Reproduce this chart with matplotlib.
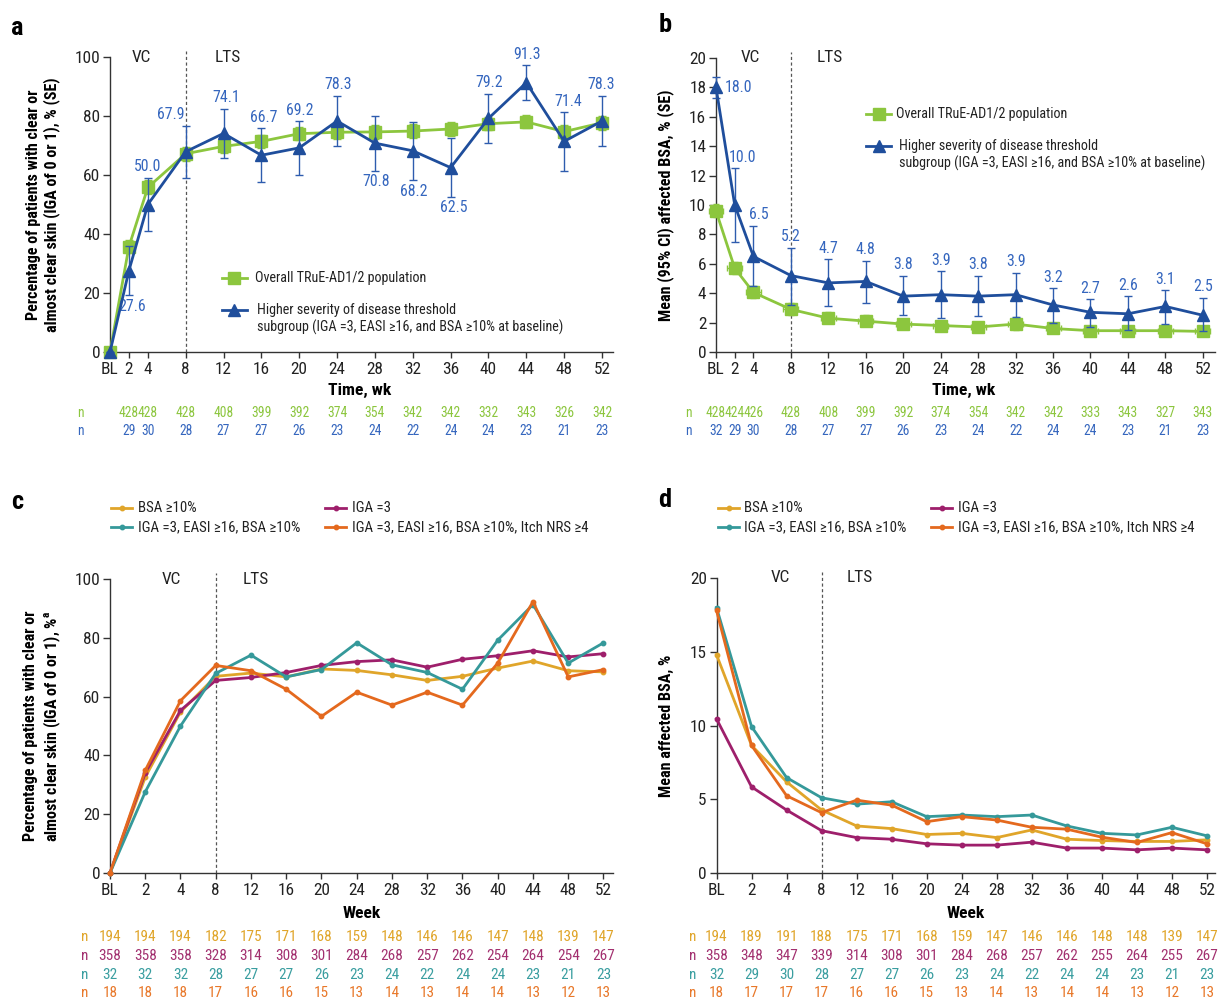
import matplotlib
matplotlib.use("Agg")
import matplotlib.pyplot as plt
from matplotlib import font_manager as fm
from matplotlib.lines import Line2D
from matplotlib.transforms import blended_transform_factory

# ---------------- data ----------------
weeks = [0, 2, 4, 8, 12, 16, 20, 24, 28, 32, 36, 40, 44, 48, 52]
week_labels = ["BL", "2", "4", "8", "12", "16", "20", "24", "28", "32", "36", "40", "44", "48", "52"]

# panel a: % clear / almost clear (SE)
a_overall = [0, 35.7, 55.8, 67.2, 69.7, 71.4, 74.0, 74.5, 74.6, 74.9, 75.6, 77.4, 78.0, 74.7, 77.7]
a_overall_se = [0, 2.2, 2.4, 2.3, 2.3, 2.3, 2.2, 2.3, 2.3, 2.3, 2.3, 2.3, 2.2, 2.4, 2.3]
a_high = [0, 27.6, 50.0, 67.9, 74.1, 66.7, 69.2, 78.3, 70.8, 68.2, 62.5, 79.2, 91.3, 71.4, 78.3]
a_high_se = [0, 8.3, 9.1, 8.8, 8.4, 9.1, 9.1, 8.6, 9.3, 9.9, 9.9, 8.3, 5.9, 9.9, 8.6]
a_n_weeks = [2, 4, 8, 12, 16, 20, 24, 28, 32, 36, 40, 44, 48, 52]
a_n_overall = [428, 428, 428, 408, 399, 392, 374, 354, 342, 342, 332, 343, 326, 342]
a_n_high = [29, 30, 28, 27, 27, 26, 23, 24, 22, 24, 24, 23, 21, 23]

# panel b: mean affected BSA (95% CI)
b_overall = [9.6, 5.7, 4.05, 2.9, 2.3, 2.1, 1.9, 1.8, 1.7, 1.9, 1.6, 1.45, 1.45, 1.45, 1.4]
b_overall_lo = [9.2, 5.3, 3.7, 2.5, 2.0, 1.75, 1.6, 1.5, 1.45, 1.5, 1.35, 1.2, 1.2, 1.2, 1.15]
b_overall_hi = [10.1, 6.1, 4.5, 3.35, 2.7, 2.5, 2.2, 2.1, 2.05, 2.35, 1.95, 1.75, 1.75, 1.8, 1.7]
b_high = [18.0, 10.0, 6.5, 5.2, 4.7, 4.8, 3.8, 3.9, 3.8, 3.9, 3.2, 2.7, 2.6, 3.1, 2.5]
b_high_lo = [17.3, 7.5, 4.5, 3.2, 3.1, 3.3, 2.5, 2.3, 2.45, 2.4, 2.0, 1.7, 1.5, 1.9, 1.4]
b_high_hi = [18.7, 12.5, 8.6, 7.1, 6.3, 6.2, 5.2, 5.5, 5.2, 5.4, 4.35, 3.6, 3.8, 4.2, 3.7]
b_n_overall = [428, 424, 426, 428, 408, 399, 392, 374, 354, 342, 342, 333, 343, 327, 343]
b_n_high = [32, 29, 30, 28, 27, 27, 26, 23, 24, 22, 24, 24, 23, 21, 23]

# panels c/d: subgroups
sub_names = ["BSA \u226510%", "IGA =3", "IGA =3, EASI \u226516, BSA \u226510%",
             "IGA =3, EASI \u226516, BSA \u226510%, Itch NRS \u22654"]
c_bsa = [0, 32.6, 54.8, 66.9, 68.0, 66.7, 69.4, 68.9, 67.4, 65.5, 66.9, 69.7, 72.1, 68.8, 68.4]
c_iga = [0, 34.0, 55.3, 65.5, 66.5, 68.2, 70.6, 71.9, 72.5, 70.0, 72.7, 73.9, 75.6, 73.5, 74.6]
c_iga_easi_bsa = [0, 27.6, 50.0, 67.9, 74.1, 66.7, 69.2, 78.3, 70.8, 68.2, 62.5, 79.2, 91.3, 71.4, 78.3]
c_iga_easi_bsa_itch = [0, 34.9, 58.6, 70.6, 68.8, 62.5, 53.3, 61.5, 57.1, 61.5, 57.1, 71.4, 92.3, 66.7, 69.2]
c_n = [
    [194, 194, 194, 182, 175, 171, 168, 159, 148, 146, 146, 147, 148, 139, 147],
    [358, 358, 358, 328, 314, 308, 301, 284, 268, 257, 262, 254, 264, 254, 267],
    [32, 32, 32, 28, 27, 27, 26, 23, 24, 22, 24, 24, 23, 21, 23],
    [18, 18, 18, 17, 16, 16, 15, 13, 14, 13, 14, 14, 13, 12, 13],
]
d_bsa = [14.8, 8.65, 6.18, 4.27, 3.19, 3.01, 2.61, 2.69, 2.4, 2.92, 2.29, 2.2, 2.14, 2.14, 2.25]
d_iga = [10.45, 5.84, 4.27, 2.87, 2.4, 2.29, 1.98, 1.89, 1.89, 2.09, 1.69, 1.69, 1.57, 1.69, 1.57]
d_iga_easi_bsa = [18.0, 9.93, 6.47, 5.1, 4.67, 4.83, 3.82, 3.93, 3.82, 3.93, 3.19, 2.69, 2.58, 3.1, 2.52]
d_iga_easi_bsa_itch = [17.8, 8.65, 5.24, 4.09, 4.94, 4.6, 3.48, 3.82, 3.59, 3.1, 2.97, 2.43, 2.07, 2.74, 1.98]
d_n = [
    [194, 189, 191, 188, 175, 171, 168, 159, 147, 146, 146, 148, 148, 139, 147],
    [358, 348, 347, 339, 314, 308, 301, 284, 268, 257, 262, 255, 264, 255, 267],
    [32, 29, 30, 28, 27, 27, 26, 23, 24, 22, 24, 24, 23, 21, 23],
    [18, 17, 17, 17, 16, 16, 15, 13, 14, 13, 14, 14, 13, 12, 13],
]

# ---------------- font choice (prefer a narrow sans) ----------------
names = {f.name for f in fm.fontManager.ttflist}


def has_condensed(name):
    for f in fm.fontManager.ttflist:
        if f.name == name and isinstance(f.stretch, str) and f.stretch in ("condensed", "semi-condensed"):
            return True
    return False


CHOICE = None
for nm in ["Liberation Sans Narrow", "Arial Narrow", "Roboto Condensed", "Noto Sans Condensed",
           "Open Sans Condensed"]:
    if nm in names:
        CHOICE = (nm, "normal")
        break
if CHOICE is None:
    for nm in ["Roboto", "Noto Sans", "Open Sans", "Liberation Sans"]:
        if nm in names and has_condensed(nm):
            CHOICE = (nm, "condensed")
            break
NARROW = CHOICE is not None
if CHOICE is None:
    CHOICE = ("Liberation Sans", "normal")

plt.rcParams["font.family"] = [CHOICE[0], "Liberation Sans", "DejaVu Sans"]
plt.rcParams["font.stretch"] = CHOICE[1]

K = 1.0 if NARROW else 0.86
FS_TICK = 12.4 * K
FS_SMALL = 11.4 * K
FS_N_AB = 9.8 * K
FS_N_CD = 11.0 * K
FS_LEG = 10.2 * K
FS_LEG_CD = 10.7 * K
FS_LAB = 11.6 * K
FS_XLAB = 12.6 * K
FS_LET = 19

GREEN = "#8CC63E"
BLUE = "#1F4E9C"
LBLUE = "#3566BE"
GOLD = "#E0A52A"
MAG = "#9E1F6B"
TEAL = "#35999A"
ORANGE = "#E4691E"
sub_colors = [GOLD, MAG, TEAL, ORANGE]
n_colors = ["#E0A52A", "#A2306F", "#3A9EA0", "#E8782A"]
GREY = "#555555"

W, H = 1218, 999
fig = plt.figure(figsize=(W / 100, H / 100), dpi=100)


def rect(l, r, t, b):
    return [l / W, 1 - b / H, (r - l) / W, (b - t) / H]


def fy(py):
    return 1 - py / H


def style_axes(ax):
    for s in ("top", "right"):
        ax.spines[s].set_visible(False)
    for s in ("left", "bottom"):
        ax.spines[s].set_color("#333333")
        ax.spines[s].set_linewidth(1.0)
    ax.tick_params(axis="x", direction="out", length=4, width=1, pad=3,
                   labelsize=FS_TICK, colors="#333333", labelcolor="#222222")
    ax.tick_params(axis="y", direction="out", length=5, width=1, pad=2,
                   labelsize=FS_TICK, colors="#333333", labelcolor="#222222")


def unclip(container):
    for art in container.get_children():
        art.set_clip_on(False)


def phase_marks(ax, xline, x_vc, x_lts, ytop):
    ax.axvline(xline, ymin=0, ymax=1.02, color=GREY, lw=0.9, ls=(0, (2.5, 2)), clip_on=False, zorder=1)
    ax.text(x_vc, ytop, "VC", ha="center", va="center", fontsize=FS_TICK, color="#222222", clip_on=False)
    ax.text(x_lts, ytop, "LTS", ha="center", va="center", fontsize=FS_TICK, color="#222222", clip_on=False)


def legend_entry(x0, x1, y, color, marker, ms, lw, label_lines, tx):
    fig.add_artist(Line2D([x0 / W, x1 / W], [fy(y), fy(y)], color=color, lw=lw))
    fig.add_artist(Line2D([(x0 + x1) / 2 / W], [fy(y)], color=color, marker=marker, ms=ms, lw=0))
    for k, line in enumerate(label_lines):
        fig.text(tx / W, fy(y + k * 17.5), line, ha="left", va="center", fontsize=FS_LEG, color="#222222")


# ---------------- panel a ----------------
ax = fig.add_axes(rect(110, 613, 57, 352))
style_axes(ax)
e1 = ax.errorbar(weeks, a_overall, yerr=a_overall_se, color=GREEN, marker="s", ms=8, lw=2,
                 elinewidth=1, capsize=3, capthick=1, zorder=3)
unclip(e1)
e2 = ax.errorbar(weeks, a_high, yerr=a_high_se, color=BLUE, marker="^", ms=8, lw=2,
                 elinewidth=1, capsize=3, capthick=1, zorder=4, ecolor="#2E5CAE")
unclip(e2)
ax.set_xlim(0, 53.16)
ax.set_ylim(0, 100)
ax.set_xticks(weeks)
ax.set_xticklabels(week_labels)
ax.set_yticks(range(0, 101, 20))
phase_marks(ax, 8, 3.3, 12.4, 100)
a_lab_pos = [None, "below", "above", "above", "above", "above", "above", "above",
             "below", "below", "below", "above", "above", "above", "above"]
a_lab_dx = [0, 3, 0, -15, 3, 2, 1, 1, 1, 1, 3, 1, 1, 4, -1]
for i, (x, y, se) in enumerate(zip(weeks, a_high, a_high_se)):
    if a_lab_pos[i] is None:
        continue
    if a_lab_pos[i] == "above":
        yy, dy = y + se, 11
    else:
        yy, dy = y - se, -11
    ax.annotate(f"{y:.1f}", (x, yy), xytext=(a_lab_dx[i], dy), textcoords="offset pixels",
                ha="center", va="center", color=LBLUE, fontsize=FS_SMALL, annotation_clip=False)
tr = blended_transform_factory(ax.transData, fig.transFigure)
for x, v in zip(a_n_weeks, a_n_overall):
    ax.text(x, fy(413), str(v), transform=tr, ha="center", va="center", color=GREEN, fontsize=FS_N_AB)
for x, v in zip(a_n_weeks, a_n_high):
    ax.text(x, fy(431), str(v), transform=tr, ha="center", va="center", color=LBLUE, fontsize=FS_N_AB)
fig.text(80 / W, fy(413), "n", ha="center", va="center", color=GREEN, fontsize=FS_N_AB)
fig.text(80 / W, fy(431), "n", ha="center", va="center", color=LBLUE, fontsize=FS_N_AB)
fig.text(360 / W, fy(390), "Time, wk", ha="center", va="center", fontsize=FS_XLAB, fontweight="bold")
fig.text(43 / W, fy(205), "Percentage of patients with clear or\nalmost clear skin (IGA of 0 or 1), % (SE)",
         rotation=90, ha="center", va="center", fontsize=FS_LAB, fontweight="bold", linespacing=1.2)
legend_entry(222, 247, 278, GREEN, "s", 8, 2, ["Overall TRuE-AD1/2 population"], 255)
legend_entry(222, 247, 310, BLUE, "^", 8, 2,
             ["Higher severity of disease threshold",
              "subgroup (IGA =3, EASI \u226516, and BSA \u226510% at baseline)"], 257)
fig.text(17 / W, fy(28), "a", ha="center", va="center", fontsize=FS_LET, fontweight="bold")

# ---------------- panel b ----------------
ax = fig.add_axes(rect(716, 1215, 58, 352))
style_axes(ax)
g_err = [[m - lo for m, lo in zip(b_overall, b_overall_lo)], [hi - m for m, hi in zip(b_overall, b_overall_hi)]]
e1 = ax.errorbar(weeks, b_overall, yerr=g_err, xerr=0.8, color=GREEN, marker="s", ms=8, lw=2,
                 elinewidth=1, capsize=2.5, capthick=1, zorder=3)
unclip(e1)
h_err = [[m - lo for m, lo in zip(b_high, b_high_lo)], [hi - m for m, hi in zip(b_high, b_high_hi)]]
e2 = ax.errorbar(weeks, b_high, yerr=h_err, color=BLUE, marker="^", ms=8, lw=2,
                 elinewidth=1, capsize=3, capthick=1, zorder=4, ecolor="#2E5CAE")
unclip(e2)
ax.set_xlim(0, 53.3)
ax.set_ylim(0, 20)
ax.set_xticks(weeks)
ax.set_xticklabels(week_labels)
ax.set_yticks(range(0, 21, 2))
phase_marks(ax, 8, 3.7, 12.2, 20)
b_lab_dx = [9, 8, 5, 0, 0, 0, 0, 0, 0, 0, 0, 0, 0, 0, 0]
for i, (x, y, hi) in enumerate(zip(weeks, b_high, b_high_hi)):
    if i == 0:
        ax.annotate(f"{y:.1f}", (x, y), xytext=(b_lab_dx[i], 0), textcoords="offset pixels",
                    ha="left", va="center", color=LBLUE, fontsize=FS_SMALL, annotation_clip=False)
    else:
        ax.annotate(f"{y:.1f}", (x, hi), xytext=(b_lab_dx[i], 11), textcoords="offset pixels",
                    ha="center", va="center", color=LBLUE, fontsize=FS_SMALL, annotation_clip=False)
tr = blended_transform_factory(ax.transData, fig.transFigure)
for x, v in zip(weeks, b_n_overall):
    ax.text(x, fy(413), str(v), transform=tr, ha="center", va="center", color=GREEN, fontsize=FS_N_AB)
for x, v in zip(weeks, b_n_high):
    ax.text(x, fy(431), str(v), transform=tr, ha="center", va="center", color=LBLUE, fontsize=FS_N_AB)
fig.text(688 / W, fy(413), "n", ha="center", va="center", color=GREEN, fontsize=FS_N_AB)
fig.text(688 / W, fy(431), "n", ha="center", va="center", color=LBLUE, fontsize=FS_N_AB)
fig.text(964 / W, fy(390), "Time, wk", ha="center", va="center", fontsize=FS_XLAB, fontweight="bold")
fig.text(666 / W, fy(205), "Mean (95% CI) affected BSA, % (SE)",
         rotation=90, ha="center", va="center", fontsize=FS_LAB, fontweight="bold")
legend_entry(866, 891, 114, GREEN, "s", 8, 2, ["Overall TRuE-AD1/2 population"], 896)
legend_entry(866, 891, 146, BLUE, "^", 8, 2,
             ["Higher severity of disease threshold",
              "subgroup (IGA =3, EASI \u226516, and BSA \u226510% at baseline)"], 899)
fig.text(665 / W, fy(25), "b", ha="center", va="center", fontsize=FS_LET, fontweight="bold")


# ---------------- panels c / d ----------------
def subgroup_panel(axrect, series, ns, ylim, yticks, ylabel, ylab_x, nx, xlim, vc, lts,
                   letter, letter_xy, leg_cols):
    ax = fig.add_axes(axrect)
    style_axes(ax)
    idx = list(range(len(week_labels)))
    for vals, col in zip(series, sub_colors):
        ax.plot(idx, vals, color=col, lw=2, marker="o", ms=3.2, clip_on=False, zorder=3)
    ax.set_xlim(*xlim)
    ax.set_ylim(*ylim)
    ax.set_xticks(idx)
    ax.set_xticklabels(week_labels)
    ax.set_yticks(yticks)
    phase_marks(ax, 3, vc, lts, ylim[1])
    tr = blended_transform_factory(ax.transData, fig.transFigure)
    rows_y = [937, 956, 975, 993]
    for row, col, py in zip(ns, n_colors, rows_y):
        for x, v in zip(idx, row):
            ax.text(x, fy(py), str(v), transform=tr, ha="center", va="center", color=col, fontsize=FS_N_CD)
        fig.text(nx / W, fy(py), "n", ha="center", va="center", color=col, fontsize=FS_N_CD)
    cx = (axrect[0] + axrect[2] / 2)
    fig.text(cx, fy(913), "Week", ha="center", va="center", fontsize=FS_XLAB, fontweight="bold")
    fig.text(ylab_x / W, fy(726), ylabel, rotation=90, ha="center", va="center",
             fontsize=FS_LAB, fontweight="bold", linespacing=1.2)
    fig.text(letter_xy[0] / W, fy(letter_xy[1]), letter, ha="center", va="center",
             fontsize=FS_LET, fontweight="bold")
    rows = [508, 527]
    for k, (name, col) in enumerate(zip(sub_names, sub_colors)):
        c0, c1, tx = leg_cols[k % 2]
        y = rows[k // 2]
        fig.add_artist(Line2D([c0 / W, c1 / W], [fy(y), fy(y)], color=col, lw=2))
        fig.add_artist(Line2D([(c0 + c1) / 2 / W], [fy(y)], color=col, marker="o", ms=3.2, lw=0))
        fig.text(tx / W, fy(y), name, ha="left", va="center", fontsize=FS_LEG_CD, color="#222222")
    return ax


subgroup_panel(rect(110, 613, 579, 873), [c_bsa, c_iga, c_iga_easi_bsa, c_iga_easi_bsa_itch], c_n,
               (0, 100), range(0, 101, 20),
               "Percentage of patients with clear or\nalmost clear skin (IGA of 0 or 1), %$^\\mathregular{a}$",
               43, 85, (0, 14.27), 1.73, 4.14, "c", (17, 502),
               [(111, 132, 138), (325, 346, 352)])
subgroup_panel(rect(716.5, 1215, 578, 873), [d_bsa, d_iga, d_iga_easi_bsa, d_iga_easi_bsa_itch], d_n,
               (0, 20), range(0, 21, 5), "Mean affected BSA, %",
               666, 693, (0, 14.23), 1.83, 4.1, "d", (665, 500),
               [(718, 739, 744), (931, 952, 958)])

fig.savefig("out.png", dpi=100)
